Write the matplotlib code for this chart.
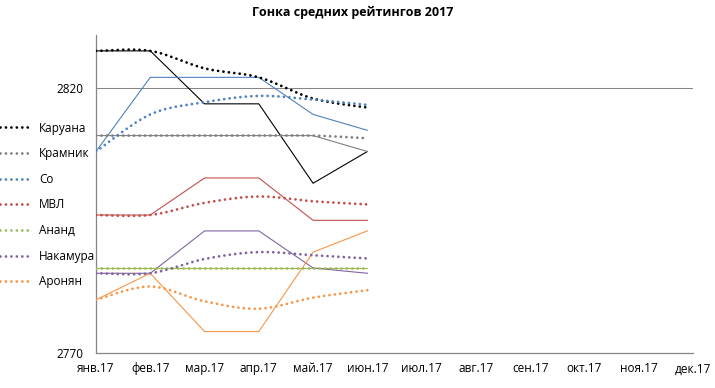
import matplotlib
matplotlib.use("Agg")
import matplotlib.pyplot as plt
import numpy as np

plt.rcParams["font.family"] = ["Open Sans", "DejaVu Sans"]

# monthly ratings (solid) and running averages (dotted)
months = ["янв.17", "фев.17", "мар.17", "апр.17", "май.17", "июн.17",
          "июл.17", "авг.17", "сен.17", "окт.17", "ноя.17", "дек.17"]
players = ["Каруана", "Крамник", "Со", "МВЛ", "Ананд", "Накамура", "Аронян"]

caruana = [2827, 2827, 2817, 2817, 2802, 2808]
kramnik = [2811, 2811, 2811, 2811, 2811, 2808]
so = [2808, 2822, 2822, 2822, 2815, 2812]
mvl = [2796, 2796, 2803, 2803, 2795, 2795]
anand = [2786, 2786, 2786, 2786, 2786, 2786]
nakamura = [2785, 2785, 2793, 2793, 2786, 2785]
aronian = [2780, 2785, 2774, 2774, 2789, 2793]

caruana_avg = [2827, 2827, 2823.7, 2822, 2818, 2816.3]
kramnik_avg = [2811, 2811, 2811, 2811, 2811, 2810.5]
so_avg = [2808, 2815, 2817.3, 2818.5, 2817.8, 2816.8]
mvl_avg = [2796, 2796, 2798.3, 2799.5, 2798.6, 2798]
anand_avg = [2786, 2786, 2786, 2786, 2786, 2786]
nakamura_avg = [2785, 2785, 2787.7, 2789, 2788.4, 2787.8]
aronian_avg = [2780, 2782.5, 2779.7, 2778.3, 2780.4, 2781.8]

monthly = [caruana, kramnik, so, mvl, anand, nakamura, aronian]
averages = [caruana_avg, kramnik_avg, so_avg, mvl_avg, anand_avg, nakamura_avg, aronian_avg]
colors = ["#000000", "#7f7f7f", "#4f81bd", "#c0504d", "#9bbb59", "#8064a2", "#f79646"]

FS = 8.5


def smooth(y, n=30):
    """Excel-style smoothed line: cubic Bezier with Catmull-Rom control points."""
    x = np.arange(len(y), dtype=float)
    y = np.asarray(y, dtype=float)
    pts = np.column_stack([x, y])
    out = [pts[0]]
    t = np.linspace(0, 1, n)[1:, None]
    for i in range(len(pts) - 1):
        p0 = pts[max(i - 1, 0)]
        p1, p2 = pts[i], pts[i + 1]
        p3 = pts[min(i + 2, len(pts) - 1)]
        c1 = p1 + (p2 - p0) / 6
        c2 = p2 - (p3 - p1) / 6
        seg = ((1 - t) ** 3) * p1 + 3 * ((1 - t) ** 2) * t * c1 + 3 * (1 - t) * t ** 2 * c2 + t ** 3 * p2
        out.extend(seg)
    out = np.array(out)
    return out[:, 0], out[:, 1]


fig = plt.figure(figsize=(7.15, 3.88), dpi=100)
ax = fig.add_axes([96 / 715, 1 - 352.7 / 388, (693 - 96) / 715, (352.7 - 35) / 388])

ax.axhline(2820, color="#868686", lw=0.75, zorder=1)

for vals, c in zip(monthly, colors):
    ax.plot(range(len(vals)), vals, "-", color=c, lw=0.8, zorder=2)

dot = (0, (0.01, 1.95))
handles = []
for vals, c, name in zip(averages, colors, players):
    sx, sy = smooth(vals)
    h, = ax.plot(sx, sy, color=c, lw=2.0, linestyle=dot, dash_capstyle="round",
                 zorder=3, label=name)
    handles.append(h)

ax.set_xlim(0, len(months) - 1)
ax.set_ylim(2770, 2830)
ax.set_xticks(range(len(months)))
ax.set_xticklabels(months)
ax.set_yticks([2770, 2820])
ax.tick_params(length=0, labelsize=FS)
ax.tick_params(axis="y", pad=9)
ax.tick_params(axis="x", pad=7)
for s in ["top", "right"]:
    ax.spines[s].set_visible(False)
for s in ["left", "bottom"]:
    ax.spines[s].set_color("#868686")
    ax.spines[s].set_linewidth(0.9)

fig.legend(handles=handles, loc="center left", bbox_to_anchor=(0, 1 - 205 / 388),
           frameon=False, fontsize=FS, handlelength=2.6, handletextpad=0.7,
           labelspacing=1.07, borderpad=0, borderaxespad=0)

fig.text(353 / 715, 1 - 12 / 388, "Гонка средних рейтингов 2017", ha="center", va="center",
         fontsize=9, fontweight="bold")

fig.savefig("out.png", dpi=100, facecolor="white")
